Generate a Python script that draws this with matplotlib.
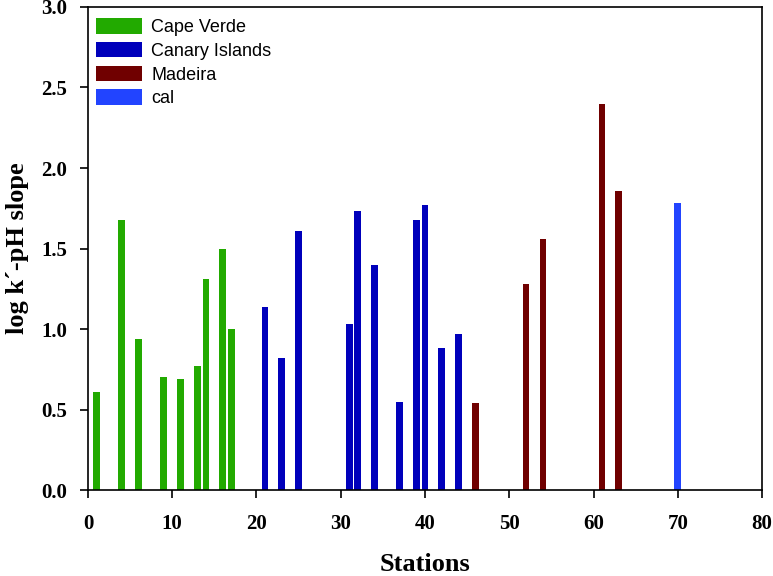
import matplotlib
matplotlib.use("Agg")
import matplotlib.pyplot as plt
from matplotlib.patches import Patch

# Data
cv_x = [1, 4, 6, 9, 11, 13, 14, 16, 17]
cv_y = [0.61, 1.68, 0.94, 0.70, 0.69, 0.77, 1.31, 1.50, 1.00]
ci_x = [21, 23, 25, 31, 32, 34, 37, 39, 40, 42, 44]
ci_y = [1.14, 0.82, 1.61, 1.03, 1.73, 1.40, 0.55, 1.68, 1.77, 0.88, 0.97]
ma_x = [46, 52, 54, 61, 63]
ma_y = [0.54, 1.28, 1.56, 2.40, 1.86]
cal_x = [70]
cal_y = [1.78]
labels = ["Cape Verde", "Canary Islands", "Madeira", "cal"]
colors = ["#22aa00", "#0000bb", "#700000", "#2244ff"]
xticks = [0, 10, 20, 30, 40, 50, 60, 70, 80]
yticks = [0.0, 0.5, 1.0, 1.5, 2.0, 2.5, 3.0]

fig = plt.figure(figsize=(7.73, 5.76), dpi=100)
ax = fig.add_axes([0.1138, 0.149, 0.8720, 0.839])

w = 0.8
for xs, ys, c, lab in zip([cv_x, ci_x, ma_x, cal_x], [cv_y, ci_y, ma_y, cal_y], colors, labels):
    ax.bar(xs, ys, width=w, color=c, label=lab, linewidth=0)

ax.set_xlim(0, 80)
ax.set_ylim(0, 3.0)
ax.set_xticks(xticks)
ax.set_yticks(yticks)
ax.set_yticklabels([f"{v:.1f}" for v in yticks])
for sp in ax.spines.values():
    sp.set_linewidth(1.2)
ax.tick_params(direction="out", length=6, width=1.2, labelsize=15, top=False, right=False)
ax.tick_params(axis="x", pad=11)
ax.tick_params(axis="y", pad=9)
for t in ax.get_xticklabels() + ax.get_yticklabels():
    t.set_fontfamily("Liberation Serif")
    t.set_fontweight("bold")

ax.set_xlabel("Stations", fontsize=19, fontfamily="Liberation Serif", fontweight="bold", labelpad=14)
ax.set_ylabel("log k\u00b4-pH slope", fontsize=19, fontfamily="Liberation Serif", fontweight="bold", labelpad=9)

handles = [Patch(facecolor=c, edgecolor="none") for c in colors]
ax.legend(handles, labels, loc="upper left", frameon=False,
          prop={"family": "Liberation Sans", "size": 13},
          handlelength=2.5, handleheight=0.95, labelspacing=0.32,
          borderaxespad=0.0, borderpad=0.0, handletextpad=0.55,
          bbox_to_anchor=(0.0125, 0.977))

fig.savefig("out.png", dpi=100)
